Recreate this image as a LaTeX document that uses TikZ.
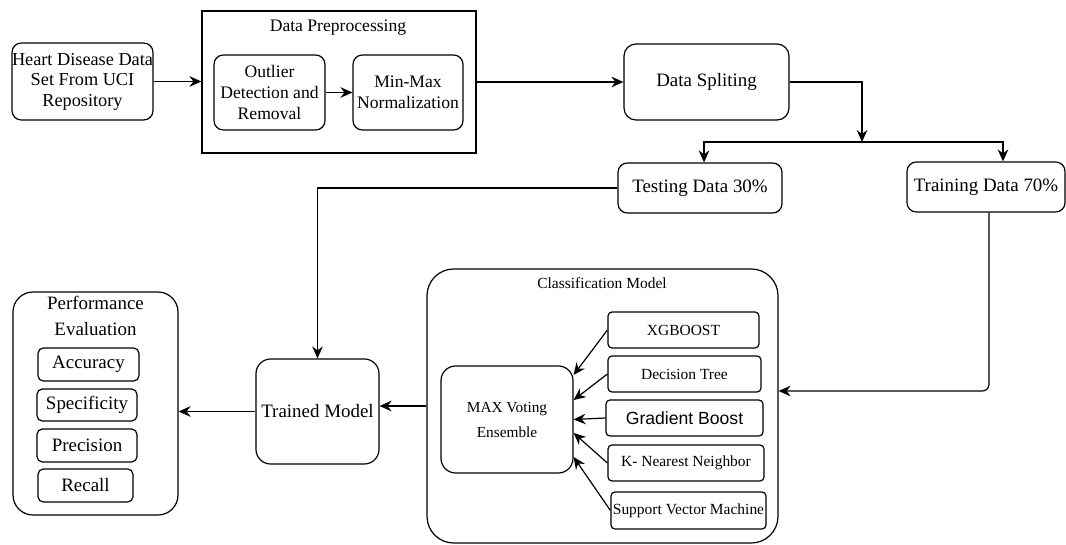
\documentclass[tikz,border=0pt]{standalone}
\usepackage{fontspec}
\setmainfont{Liberation Serif}
\newfontfamily\arialfont{Liberation Sans}
\usetikzlibrary{arrows.meta}

\newcommand\boxfont{\fontsize{14.2}{16}\selectfont}
\newcommand\prepfont{\fontsize{13.2}{16}\selectfont}
\newcommand\itemfont{\fontsize{11.6}{14}\selectfont}

\begin{document}
\begin{tikzpicture}[x=0.75pt, y=-0.75pt, line width=0.9pt,
  box/.style={draw, rounded corners=7pt, align=center, inner sep=0pt, font=\boxfont},
  item/.style={draw, rounded corners=3pt, align=center, inner sep=0pt, font=\itemfont},
  arr/.style={-{Stealth[length=9pt, width=8pt, inset=3pt]}}]

  \useasboundingbox (0,0) rectangle (1066,545);

  % Data set and preprocessing
  \node[box, minimum width=105.75pt, minimum height=57.75pt, font={\fontsize{13.7}{15.4}\selectfont}] (heart) at (82.5,81.5) {Heart Disease Data\\Set From UCI\\Repository};
  \node[draw, minimum width=205.5pt, minimum height=106.5pt] (prep) at (339,82) {};
  \node[font=\prepfont] (preptitle) at (338,28) {Data Preprocessing};
  \node[box, minimum width=83.25pt, minimum height=56.25pt, font=\prepfont] (outlier) at (269.5,92.5) {Outlier\\Detection and\\Removal};
  \node[box, minimum width=82.5pt, minimum height=56.25pt, font=\prepfont] (minmax) at (408,92.5) {Min-Max\\Normalization};

  % Splitting
  \node[box, rounded corners=9pt, minimum width=123.75pt, minimum height=57pt] (split) at (706.5,82) {Data Spliting};
  \node[box, minimum width=123pt, minimum height=37.5pt] (test) at (700,188) {Testing Data 30\%};
  \node[box, minimum width=118.5pt, minimum height=37.5pt] (train) at (986,187) {Training Data 70\%};

  % Performance evaluation
  \node[box, rounded corners=15pt, minimum width=123.75pt, minimum height=167.25pt] (perf) at (95.5,403.5) {};
  \node[align=center, font={\fontsize{14.2}{19.5}\selectfont}] (perftitle) at (95.5,316) {Performance\\Evaluation};
  \node[box, rounded corners=4pt, minimum width=75.75pt, minimum height=24.75pt] (acc) at (88.5,364.5) {Accuracy};
  \node[box, rounded corners=4pt, minimum width=75pt, minimum height=24pt] (spec) at (87,405) {Specificity};
  \node[box, rounded corners=4pt, minimum width=75pt, minimum height=24.75pt] (prec) at (87,445.5) {Precision};
  \node[box, rounded corners=4pt, minimum width=71.25pt, minimum height=24.75pt] (recall) at (85.5,485.5) {Recall};

  % Trained model
  \node[box, rounded corners=11pt, minimum width=92.25pt, minimum height=78.75pt] (trained) at (317.5,411.5) {Trained Model};

  % Classification model
  \node[draw, rounded corners=20pt, minimum width=263.25pt, minimum height=205.5pt] (clf) at (602.5,406) {};
  \node[font=\itemfont] (clftitle) at (602,283) {Classification Model};
  \node[box, rounded corners=11pt, minimum width=99pt, minimum height=80.25pt, font={\fontsize{11.5}{18.75}\selectfont}] (maxv) at (507,419.5) {MAX Voting\\Ensemble};
  \node[item, minimum width=113.25pt, minimum height=27pt] (xgb) at (683.5,330) {XGBOOST};
  \node[item, minimum width=114.75pt, minimum height=27pt] (dt) at (684.5,374) {Decision Tree};
  \node[item, minimum width=117.75pt, minimum height=27pt, font={\arialfont\fontsize{13.2}{15}\selectfont}] (gb) at (684.5,418) {Gradient Boost};
  \node[item, minimum width=117pt, minimum height=27pt] (knn) at (686,463) {K- Nearest Neighbor};
  \node[item, minimum width=116.25pt, minimum height=27.75pt] (svm) at (688.5,510.5) {Support Vector Machine};

  % Routings
  \coordinate (fork) at (862,142);
  \draw[arr] (heart.east) -- (heart.east -| prep.west);
  \draw[arr] (outlier) -- (minmax);
  \draw[arr] (prep.east) -- (prep.east -| split.west);
  \draw[arr] (split.east) -| (fork);
  \draw[arr] (fork) -| ([xshift=3pt]test.north);
  \draw[arr] (fork) -| ([xshift=12.75pt]train.north);
  \draw[arr] (test.west) -| (trained.north);
  \draw[arr, rounded corners=5pt] ([xshift=2.25pt]train.south) |- ([yshift=11.25pt]clf.east);
  \draw[arr] (clf.west) -- (clf.west -| trained.east);
  \draw[arr] (trained.west) -- (trained.west -| perf.east);

  % Votes
  \draw[arr] (xgb.west) -- ([yshift=33.4pt]maxv.east);
  \draw[arr] (dt.west) -- ([yshift=14.6pt]maxv.east);
  \draw[arr] (gb.west) -- (maxv.east);
  \draw[arr] (knn.west) -- ([yshift=-10.1pt]maxv.east);
  \draw[arr] (svm.west) -- ([yshift=-28.1pt]maxv.east);
\end{tikzpicture}
\end{document}
